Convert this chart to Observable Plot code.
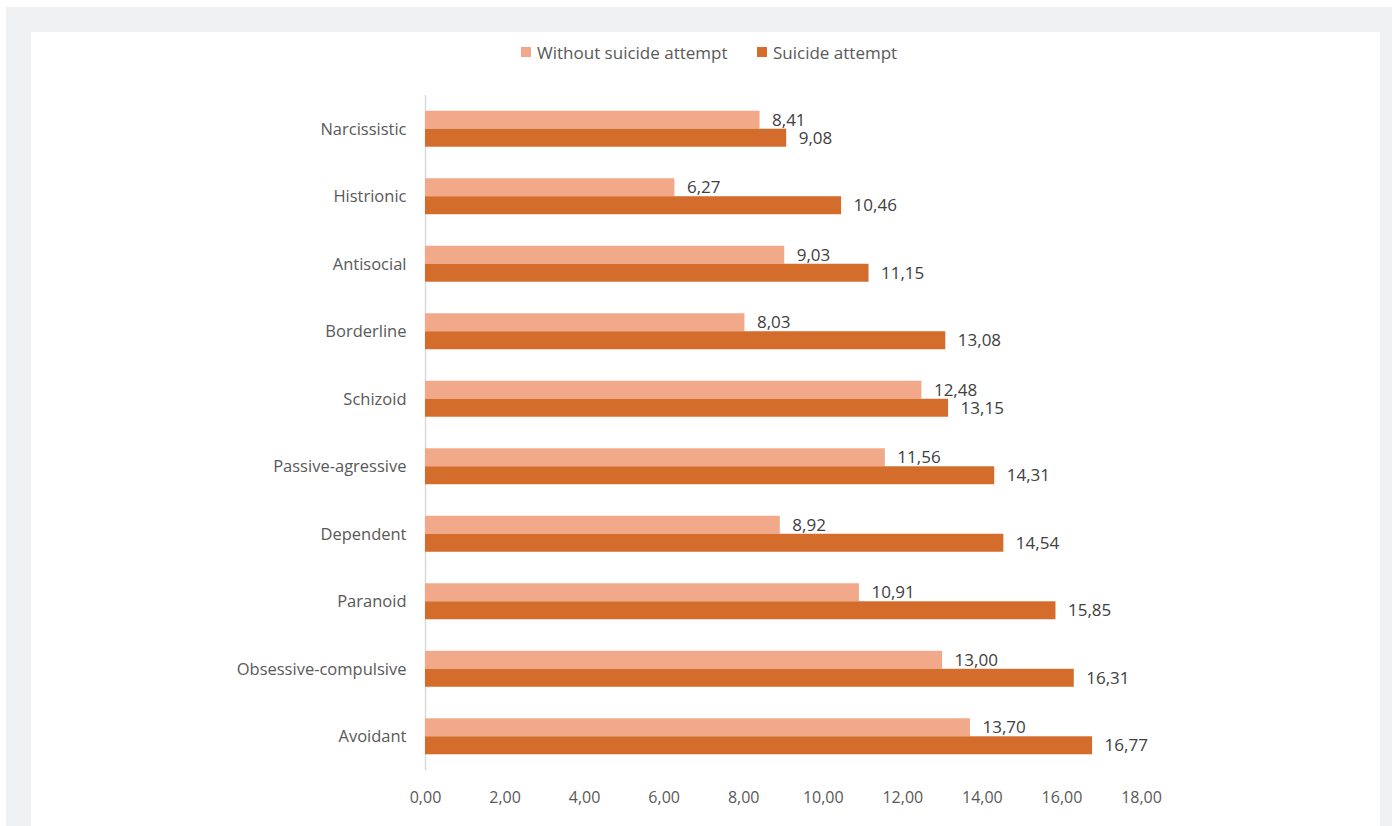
<!DOCTYPE html>
<html>
<head>
<meta charset="utf-8">
<script src="https://cdn.jsdelivr.net/npm/d3@7"></script>
<script src="https://cdn.jsdelivr.net/npm/@observablehq/plot@0.6"></script>
<style>
  html, body { margin: 0; padding: 0; background: #ffffff; overflow: hidden; }
  #frame { position: absolute; left: 6px; top: 7px; right: 0; bottom: 0; background: #f0f1f3; }
  #panel { position: absolute; left: 31px; top: 32px; width: 1349px; bottom: 0; background: #ffffff; }
  #legend { position: absolute; left: 0; top: 40px; width: 1392px; height: 24px;
            font-family: "Open Sans", sans-serif; font-size: 17px; color: #595959; }
  .item { position: absolute; top: 0; display: flex; align-items: center; height: 24px; }
  .sw { width: 10px; height: 10px; margin-right: 6px; }
  #chart { position: absolute; left: 0; top: 0; }
</style>
</head>
<body>
<div id="frame"></div>
<div id="panel"></div>
<div id="chart"></div>
<div id="legend"></div>
<script>
// Personality disorder scores, by group
const categories = ["Narcissistic", "Histrionic", "Antisocial", "Borderline", "Schizoid",
  "Passive-agressive", "Dependent", "Paranoid", "Obsessive-compulsive", "Avoidant"];
const withoutAttempt = [8.41, 6.27, 9.03, 8.03, 12.48, 11.56, 8.92, 10.91, 13.00, 13.70];
const withAttempt = [9.08, 10.46, 11.15, 13.08, 13.15, 14.31, 14.54, 15.85, 16.31, 16.77];
const seriesNames = ["Without suicide attempt", "Suicide attempt"];
const seriesColors = ["#f1a98a", "#d46c2c"];
const xTicks = [0, 2, 4, 6, 8, 10, 12, 14, 16, 18];

const fmt = v => v.toFixed(2).replace(".", ",");

const rowsA = categories.map((c, i) => ({category: c, value: withoutAttempt[i]}));
const rowsB = categories.map((c, i) => ({category: c, value: withAttempt[i]}));

const chart = Plot.plot({
  width: 1392,
  height: 826,
  marginLeft: 425,
  marginRight: 251,
  marginTop: 95,
  marginBottom: 56,
  style: {fontFamily: "'Open Sans', sans-serif", background: "transparent"},
  x: {domain: [0, 18], axis: null},
  y: {domain: categories, paddingInner: 0.467, paddingOuter: 0.233, round: false, axis: null},
  marks: [
    Plot.ruleX([0], {stroke: "#d9d9d9", strokeWidth: 1.5}),
    Plot.barX(rowsA, {x: "value", y: "category", fill: seriesColors[0], insetBottom: 18, insetTop: 0}),
    Plot.barX(rowsB, {x: "value", y: "category", fill: seriesColors[1], insetTop: 18, insetBottom: 0}),
    Plot.text(rowsA, {x: "value", y: "category", text: d => fmt(d.value), dx: 12, dy: -9,
      textAnchor: "start", fill: "#404040", fontSize: 17}),
    Plot.text(rowsB, {x: "value", y: "category", text: d => fmt(d.value), dx: 12, dy: 9,
      textAnchor: "start", fill: "#404040", fontSize: 17}),
    Plot.axisY({tickSize: 0, tickPadding: 19, fontSize: 16.5, color: "#595959", label: null}),
    Plot.axisX({ticks: xTicks, tickSize: 0, tickPadding: 21, tickFormat: fmt, fontSize: 16,
      color: "#595959", label: null})
  ]
});
document.getElementById("chart").appendChild(chart);

// Legend
const legend = document.getElementById("legend");
const legendX = [521, 757];
seriesNames.forEach((name, i) => {
  const item = document.createElement("div");
  item.className = "item";
  item.style.left = legendX[i] + "px";
  const sw = document.createElement("span");
  sw.className = "sw";
  sw.style.background = seriesColors[i];
  const label = document.createElement("span");
  label.textContent = name;
  item.appendChild(sw);
  item.appendChild(label);
  legend.appendChild(item);
});
</script>
</body>
</html>
